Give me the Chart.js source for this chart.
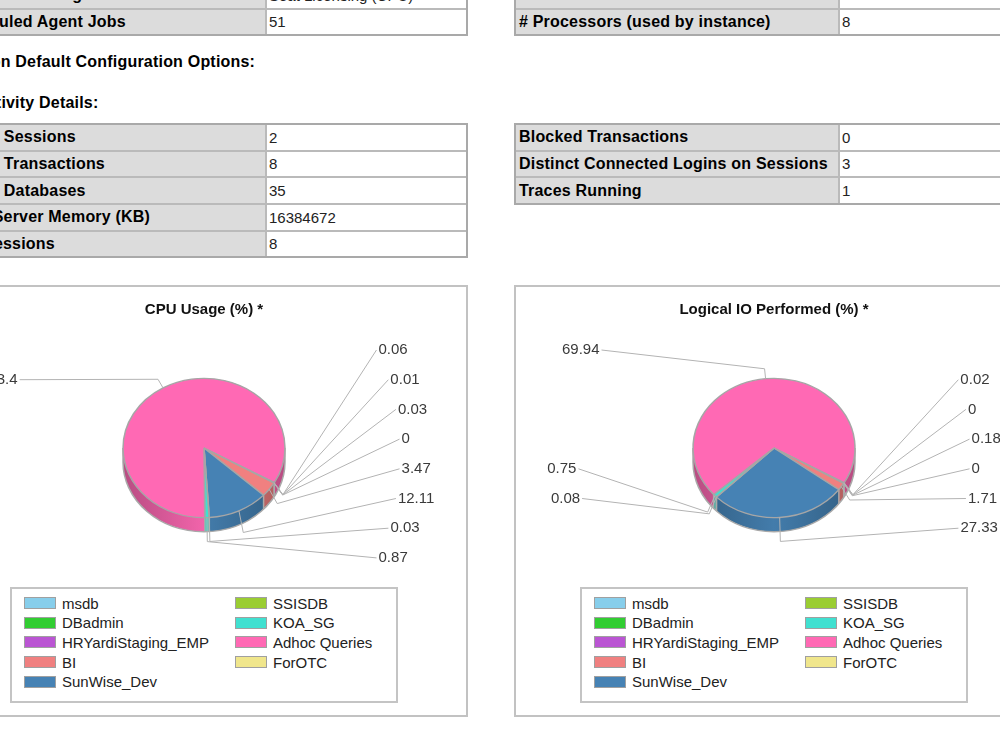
<!DOCTYPE html>
<html>
<head>
<meta charset="utf-8">
<script src="https://cdn.jsdelivr.net/npm/chart.js@4.4.1/dist/chart.umd.min.js"></script>
<style>
  body { margin: 0; width: 1000px; height: 750px; overflow: hidden; position: relative; background: #fff;
         font-family: "Liberation Sans", Arial, sans-serif; color: #000; }
  .tbl { position: absolute; width: 523px; border: 2px solid #a9a9a9; box-sizing: border-box; }
  .row { display: flex; height: 26.67px; box-sizing: border-box; border-bottom: 2px solid #bababa; }
  .row:last-child { border-bottom: none; height: 24.67px; }
  .k { background: #dcdcdc; font-weight: bold; font-size: 16px; letter-spacing: 0.2px; box-sizing: border-box;
       border-right: 2px solid #bababa; padding-left: 3px; display: flex; align-items: center; white-space: nowrap; overflow: hidden; }
  .v { font-size: 15px; color: #222; padding-left: 2px; display: flex; align-items: center; white-space: nowrap; }
  .left .k { width: 320px; }
  .right .k { width: 324px; }
  .head { position: absolute; font-size: 16px; font-weight: bold; letter-spacing: 0.2px; white-space: nowrap; line-height: 20px; }
  .panel { position: absolute; width: 523px; height: 432px; border: 2px solid #c2c2c2; box-sizing: border-box; }
  .chartbox { position: absolute; width: 522px; height: 295px; }
  .legend { position: absolute; width: 388px; height: 116px; border: 2px solid #c4c4c4; box-sizing: border-box; }
  .item { position: absolute; height: 20px; display: flex; align-items: center; font-size: 15px; color: #222; white-space: nowrap; }
  .sw { width: 32px; height: 12px; box-sizing: border-box; border: 1px solid #a0a0a0; margin-right: 6px; }
</style>
</head>
<body>

<div class="tbl left" style="left:-55px; top:-19px;">
  <div class="row"><div class="k">Server Licensing</div><div class="v">Seat Licensing (CPU)</div></div>
  <div class="row"><div class="k">Scheduled Agent Jobs</div><div class="v">51</div></div>
</div>
<div class="tbl right" style="left:514px; top:-19px;">
  <div class="row"><div class="k"></div><div class="v"></div></div>
  <div class="row"><div class="k"># Processors (used by instance)</div><div class="v">8</div></div>
</div>

<div class="head" style="left:-21px; top:52px;">Non Default Configuration Options:</div>
<div class="head" style="left:-25px; top:93px;">Activity Details:</div>

<div class="tbl left" style="left:-55px; top:123px;">
  <div class="row"><div class="k">Active Sessions</div><div class="v">2</div></div>
  <div class="row"><div class="k">Active Transactions</div><div class="v">8</div></div>
  <div class="row"><div class="k">Active Databases</div><div class="v">35</div></div>
  <div class="row"><div class="k">Total Server Memory (KB)</div><div class="v">16384672</div></div>
  <div class="row"><div class="k">Idle Sessions</div><div class="v">8</div></div>
</div>
<div class="tbl right" style="left:514px; top:123px;">
  <div class="row"><div class="k">Blocked Transactions</div><div class="v">0</div></div>
  <div class="row"><div class="k">Distinct Connected Logins on Sessions</div><div class="v">3</div></div>
  <div class="row"><div class="k">Traces Running</div><div class="v">1</div></div>
</div>

<div class="panel" style="left:-55px; top:285px;"></div>
<div class="panel" style="left:514px; top:285px;"></div>

<div class="chartbox" style="left:-55px; top:287px;"><canvas id="cpuChart"></canvas></div>
<div class="chartbox" style="left:514px; top:287px;"><canvas id="ioChart"></canvas></div>

<div class="legend" id="cpuLegend" style="left:10px; top:587px;"></div>
<div class="legend" id="ioLegend" style="left:580px; top:587px;"></div>

<script>
// data
const categories = ['msdb', 'DBadmin', 'HRYardiStaging_EMP', 'BI', 'SunWise_Dev',
                    'SSISDB', 'KOA_SG', 'Adhoc Queries', 'ForOTC'];
const cpuUsage = [0.01, 0.03, 0, 3.47, 12.11, 0.03, 0.87, 83.4, 0.06];
const logicalIO = [0, 0.18, 0, 1.71, 27.33, 0.08, 0.75, 69.94, 0.02];

const sliceColors = ['#87CEEB', '#32CD32', '#BA55D3', '#F08080', '#4682B4',
                     '#9ACD32', '#40E0D0', '#FF69B4', '#F0E68C'];

const TILT = 0.86;   // vertical squash of the pie
const DEPTH = 14;    // thickness of the 3d rim

function shade(hex, f) {
  const n = parseInt(hex.slice(1), 16);
  const r = Math.round(((n >> 16) & 255) * f), g = Math.round(((n >> 8) & 255) * f), b = Math.round((n & 255) * f);
  return 'rgb(' + r + ',' + g + ',' + b + ')';
}

// draws the rim under the pie and squashes the pie itself
const pie3d = {
  id: 'pie3d',
  beforeDatasetsDraw(chart) {
    const ctx = chart.ctx;
    const arcs = chart.getDatasetMeta(0).data;
    const cx = arcs[0].x, cy = arcs[0].y, r = arcs[0].outerRadius;
    const colors = chart.data.datasets[0].backgroundColor;

    for (let d = DEPTH; d >= 1; d--) {
      ctx.save();
      ctx.translate(cx, cy + d);
      ctx.scale(1, TILT);
      arcs.forEach((a, i) => {
        if (a.endAngle - a.startAngle <= 0) return;
        const g = ctx.createLinearGradient(-r, 0, r, 0);
        g.addColorStop(0, shade(colors[i], 0.72));
        g.addColorStop(0.5, shade(colors[i], 0.95));
        g.addColorStop(1, shade(colors[i], 0.72));
        ctx.fillStyle = g;
        ctx.beginPath();
        ctx.moveTo(0, 0);
        ctx.arc(0, 0, r, a.startAngle, a.endAngle);
        ctx.closePath();
        ctx.fill();
      });
      ctx.restore();
    }
    // rim outline and slice seams on the front
    ctx.save();
    ctx.strokeStyle = '#a9a9a9';
    ctx.lineWidth = 1.5;
    ctx.beginPath();
    ctx.ellipse(cx, cy + DEPTH, r, r * TILT, 0, 0, Math.PI);
    ctx.moveTo(cx - r, cy); ctx.lineTo(cx - r, cy + DEPTH);
    ctx.moveTo(cx + r, cy); ctx.lineTo(cx + r, cy + DEPTH);
    arcs.forEach(a => {
      const s = Math.sin(a.startAngle);
      if (s > 0.05) {
        const x = cx + r * Math.cos(a.startAngle), y = cy + r * TILT * s;
        ctx.moveTo(x, y); ctx.lineTo(x, y + DEPTH);
      }
    });
    ctx.stroke();
    ctx.restore();

    ctx.save();
    ctx.translate(cx, cy);
    ctx.scale(1, TILT);
    ctx.translate(-cx, -cy);
  },
  afterDatasetsDraw(chart) {
    chart.ctx.restore();
  }
};

// value labels in two columns with leader lines
const callouts = {
  id: 'callouts',
  afterDraw(chart) {
    const ctx = chart.ctx;
    const arcs = chart.getDatasetMeta(0).data;
    const values = chart.data.datasets[0].data;
    const cx = arcs[0].x, cy = arcs[0].y, rx = arcs[0].outerRadius, ry = rx * TILT;

    const items = arcs.map((a, i) => {
      const m = (a.startAngle + a.endAngle) / 2;
      const c = Math.cos(m), s = Math.sin(m);
      return {
        i: i, side: c >= 0 ? 1 : -1, want: cy + 90 * s,
        ax: cx + rx * c, ay: cy + ry * s,
        ex: cx + (rx + 10) * c, ey: cy + (ry + 10) * s + (s > 0 ? DEPTH * s : 0)
      };
    });

    const SLOTS = 8, GAP = 29.7, top = cy - 98;
    [1, -1].forEach(side => {
      const list = items.filter(o => o.side === side).sort((a, b) => a.want - b.want);
      if (!list.length) return;
      let prev = -1;
      list.forEach(o => {
        o.wish = Math.max(0, Math.min(SLOTS - 1, Math.round((o.want - top) / GAP)));
        o.slot = Math.max(o.wish, prev + 1);
        prev = o.slot;
      });
      let next = Math.min(SLOTS, list[list.length - 1].wish + 1);
      for (let k = list.length - 1; k >= 0; k--) {
        list[k].slot = Math.min(list[k].slot, next - 1);
        next = list[k].slot;
      }
      prev = -1;
      list.forEach(o => { o.slot = Math.max(o.slot, prev + 1); prev = o.slot; });
      list.forEach(o => {
        o.ly = top + o.slot * GAP;
        const dy = o.ly - (cy + 6);
        o.lx = cx + side * 198 * Math.sqrt(Math.max(0, 1 - (dy / 220) * (dy / 220)));
      });
    });

    ctx.save();
    ctx.strokeStyle = '#b3b3b3';
    ctx.lineWidth = 1;
    items.forEach(o => {
      ctx.beginPath();
      ctx.moveTo(o.ax, o.ay);
      ctx.lineTo(o.ex, o.ey);
      ctx.lineTo(o.lx - o.side * 2, o.ly);
      ctx.stroke();
    });
    ctx.fillStyle = '#3a3a3a';
    ctx.font = '15px "Liberation Sans", Arial, sans-serif';
    ctx.textBaseline = 'middle';
    items.forEach(o => {
      ctx.textAlign = o.side > 0 ? 'left' : 'right';
      ctx.fillText(String(values[o.i]), o.lx, o.ly);
    });
    ctx.restore();
  }
};

function makePie(id, title, values, padRight) {
  return new Chart(document.getElementById(id), {
    type: 'pie',
    data: {
      labels: categories,
      datasets: [{
        data: values,
        backgroundColor: sliceColors,
        borderColor: '#a6a6a6',
        borderWidth: 1.5,
        radius: 81
      }]
    },
    options: {
      responsive: true,
      maintainAspectRatio: false,
      animation: false,
      events: [],
      rotation: 120,
      layout: { padding: { left: 0, right: padRight, top: 0, bottom: 15 } },
      plugins: {
        legend: { display: false },
        tooltip: { enabled: false },
        title: {
          display: true,
          text: title,
          color: '#111',
          font: { family: '"Liberation Sans", Arial, sans-serif', size: 15, weight: 'bold' },
          padding: { top: 14, bottom: 10 }
        }
      }
    },
    plugins: [pie3d, callouts]
  });
}

// legend boxes, two columns filled top to bottom
function buildLegend(id) {
  const box = document.getElementById(id);
  const perCol = Math.ceil(categories.length / 2);
  categories.forEach((name, i) => {
    const col = Math.floor(i / perCol), row = i % perCol;
    const el = document.createElement('div');
    el.className = 'item';
    el.style.left = (12 + col * 211) + 'px';
    el.style.top = (4 + row * 19.7) + 'px';
    el.innerHTML = '<div class="sw" style="background:' + sliceColors[i] + '"></div>' + name;
    box.appendChild(el);
  });
}

makePie('cpuChart', 'CPU Usage (%) *', cpuUsage, 4);
makePie('ioChart', 'Logical IO Performed (%) *', logicalIO, 2);
buildLegend('cpuLegend');
buildLegend('ioLegend');
</script>
</body>
</html>
